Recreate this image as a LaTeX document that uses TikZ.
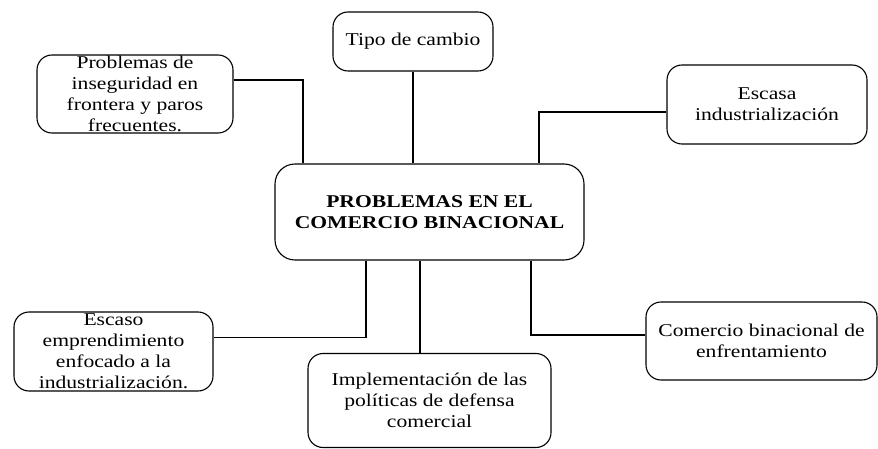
\documentclass[tikz,border=0pt]{standalone}
\usepackage{fontspec}
\setmainfont[FakeStretch=1.2]{Liberation Serif}
\begin{document}
\begin{tikzpicture}[x=1pt,y=-1pt,
  box/.style={draw,line width=1.1pt,rounded corners=15pt,inner sep=0pt,align=center,
    font=\fontsize{18}{21}\selectfont},
  link/.style={line width=1.1pt}]
\useasboundingbox (0,0) rectangle (878,449);
\node[box,minimum width=309pt,minimum height=96pt,rounded corners=20pt,font=\fontsize{18}{21}\selectfont\bfseries] (cen) at (429.5,212) {PROBLEMAS EN EL\\COMERCIO BINACIONAL};
\node[box,minimum width=196pt,minimum height=78pt] (prob) at (135,94) {Problemas de\\inseguridad en\\frontera y paros\\frecuentes.};
\node[box,minimum width=160pt,minimum height=59pt] (tipo) at (413,41.5) {Tipo de cambio};
\node[box,minimum width=200pt,minimum height=79pt] (esc) at (767,104.5) {Escasa\\industrialización};
\node[box,minimum width=199pt,minimum height=79pt] (escaso) at (113.5,351.5) {Escaso\\emprendimiento\\enfocado a la\\industrialización.};
\node[box,minimum width=243pt,minimum height=94pt] (impl) at (429.5,400.5) {Implementación de las\\políticas de defensa\\comercial};
\node[box,minimum width=231pt,minimum height=78pt] (com) at (761.5,341) {Comercio binacional de\\enfrentamiento};
\coordinate (escj) at ([yshift=14pt]escaso.east);
\coordinate (comj) at ([yshift=6pt]com.west);
\draw[link] (prob.east) ++(0,-14) -| (cen.north -| 303,0);
\draw[link] (tipo.south) -- (cen.north -| tipo.south);
\draw[link] (esc.west) ++(0,7.5) -| (cen.north -| 539,0);
\draw[link] (cen.south -| 366,0) |- (escj);
\draw[link] (cen.south -| 420,0) -- (impl.north -| 420,0);
\draw[link] (cen.south -| 531,0) |- (comj);
\end{tikzpicture}
\end{document}
